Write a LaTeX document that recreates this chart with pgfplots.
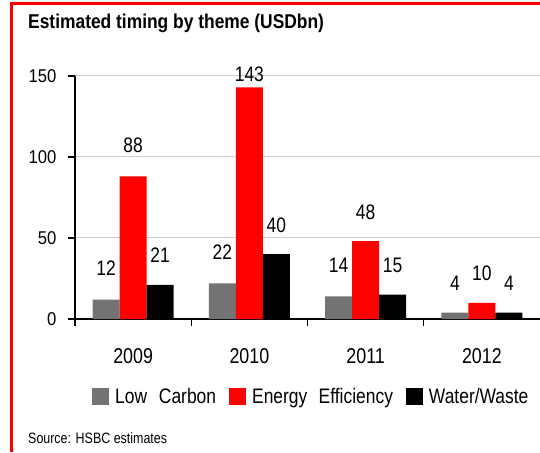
\documentclass[border=0pt]{standalone}
\usepackage{fontspec}
\setmainfont{Liberation Sans}
\newfontfamily\nar{Liberation Sans}[FakeStretch=0.83]
\newfontfamily\ytf{Liberation Sans}[FakeStretch=0.9]
\newfontfamily\ttf{Liberation Sans}[FakeStretch=0.87]
\usepackage{pgfplots}
\pgfplotsset{compat=1.18}
\definecolor{lc}{RGB}{115,115,115}
\definecolor{gridc}{RGB}{205,205,205}
\begin{document}
\begin{tikzpicture}[x=1pt,y=1pt]
\useasboundingbox (0,0) rectangle (540,452);
\draw[red, line width=3pt] (11,0) -- (11,448) -- (540,448);
\node[anchor=base west, font=\ttf\bfseries\fontsize{20}{22}\selectfont, inner sep=0pt] at (28,423) {Estimated timing by theme (USDbn)};
\node[anchor=base west, font=\nar\fontsize{15}{17}\selectfont, inner sep=0pt] at (28,9) {Source: HSBC estimates};
\begin{axis}[
  at={(75pt,133pt)}, anchor=south west,
  scale only axis, width=465pt, height=243pt,
  ybar=0pt, bar width=27pt,
  xmin=-0.5, xmax=3.5, ymin=0, ymax=150,
  enlargelimits=false, clip=false,
  xtick={-0.5,0.5,1.5,2.5}, xticklabels={},
  extra x ticks={0,1,2,3},
  extra x tick labels={2009,2010,2011,2012},
  extra x tick style={major tick length=0pt, grid=none,
    xticklabel style={yshift=-26pt, font=\nar\fontsize{21.5}{23}\selectfont}},
  ytick={0,50,100,150},
  yticklabel style={xshift=-8pt, font=\ytf\fontsize{18.5}{20}\selectfont},
  axis x line*=bottom, axis y line*=left,
  axis line style={line width=1.3pt, -},
  tick align=outside,
  major tick length=7pt,
  tick style={line width=1.3pt, black},
  ymajorgrids, grid style={gridc, line width=1pt},
  /pgf/number format/assume math mode=true,
  legend style={at={(0.506,-0.319)}, anchor=center, draw=none, fill=none,
    legend columns=-1, font=\nar\fontsize{21}{23}\selectfont,
    nodes={inner xsep=0pt},
    /tikz/every odd column/.append style={column sep=6pt},
    /tikz/every even column/.append style={column sep=13pt}},
  legend image code/.code={\fill[#1] (0pt,-8.5pt) rectangle (17pt,8.5pt);},
]
\addplot[fill=lc, draw=none] coordinates {(0,12) (1,22) (2,14) (3,4)};
\addplot[fill=red, draw=none] coordinates {(0,88) (1,143) (2,48) (3,10)};
\addplot[fill=black, draw=none] coordinates {(0,21) (1,40) (2,15) (3,4)};
\legend{Low\hspace{7pt} Carbon, Energy\hspace{6.5pt} Efficiency, Water/Waste}
\begin{scope}[font=\nar\fontsize{21}{23}\selectfont]
\node at (axis cs:-0.232,31.5) {12};
\node at (axis cs:0,107.4) {88};
\node at (axis cs:0.232,39.5) {21};
\node at (axis cs:0.768,41.4) {22};
\node at (axis cs:1,151.2) {143};
\node at (axis cs:1.232,58) {40};
\node at (axis cs:1.768,33.3) {14};
\node at (axis cs:2,66) {48};
\node at (axis cs:2.232,33.3) {15};
\node at (axis cs:2.768,22.2) {4};
\node at (axis cs:3,28.4) {10};
\node at (axis cs:3.232,22.2) {4};
\end{scope}
\end{axis}
\end{tikzpicture}
\end{document}
